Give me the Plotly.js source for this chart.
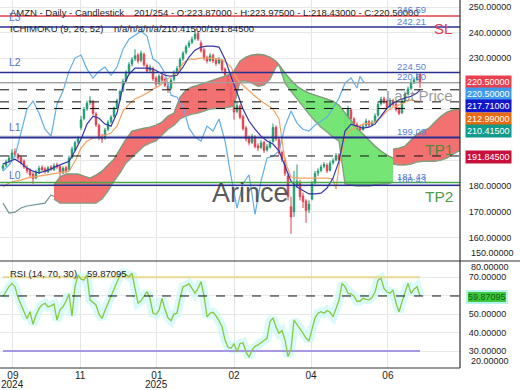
<!DOCTYPE html>
<html><head><meta charset="utf-8">
<script src="https://cdn.plot.ly/plotly-3.0.1.min.js"></script>
<style>html,body{margin:0;padding:0;background:#fff;}#chart{width:520px;height:390px;}</style>
</head><body><div id="chart"></div>
<script>
// ---------------- DATA ----------------
const symbolTitle = "AMZN - Daily - Candlestick";
const barInfo = "201/254";
const opens = [187.0,188.2,189.8,190.8,193.5,192.3,191.2,189.8,187.0,186.2,
184.8,183.2,185.2,187.3,186.8,185.6,187.5,186.5,188.4,187.8,
185.2,187.3,186.5,191.2,194.2,197.3,203.0,206.5,210.3,212.8,
213.0,208.2,203.8,199.3,198.8,202.3,205.2,207.3,210.8,213.8,
217.5,221.3,224.8,227.8,229.8,231.3,229.3,231.5,227.2,225.3,
226.0,222.3,220.2,223.2,221.8,219.2,218.3,221.8,224.8,226.3,
229.8,232.3,234.8,236.3,237.8,239.8,236.0,233.3,230.3,229.2,
231.2,229.2,228.2,229.2,225.8,223.2,219.2,213.5,209.3,211.3,
207.2,202.8,198.8,197.2,199.3,195.8,195.2,197.2,194.2,195.3,
197.5,203.0,198.2,193.2,190.2,184.0,172.0,170.0,180.5,181.5,
176.2,174.2,170.8,175.0,181.3,185.2,186.2,187.8,188.2,186.3,
189.2,190.3,192.2,190.8,203.5,206.3,209.8,206.3,204.2,203.2,
202.2,203.8,205.3,204.2,205.3,207.8,212.3,214.2,213.2,211.2,
213.3,212.2,210.2,208.8,213.3,216.2,218.3,220.8,221.8,223.87];
const highs = [189.0,190.5,192.0,194.5,194.8,193.0,192.0,190.5,188.2,187.0,
185.5,186.5,188.0,188.2,187.5,188.0,188.3,189.0,189.2,188.0,
187.8,188.0,192.0,195.5,197.8,199.5,207.5,211.0,213.5,215.2,
213.8,209.0,204.5,200.5,202.8,205.8,207.8,211.2,214.3,217.8,
222.0,225.3,228.5,230.5,233.5,232.0,233.0,232.3,228.0,227.5,
226.8,223.0,223.8,224.0,222.5,220.0,222.3,225.3,227.0,230.3,
232.8,235.3,237.0,238.5,241.5,240.5,237.0,234.0,231.0,232.0,
231.8,230.0,230.5,229.8,226.5,224.0,220.0,214.5,213.0,212.0,
208.0,203.5,199.8,200.5,200.0,196.8,198.0,197.8,196.5,198.0,
204.5,203.8,199.0,194.0,191.0,185.0,176.0,186.0,188.5,182.5,
177.5,175.0,174.5,182.0,186.0,187.0,188.5,189.5,189.0,190.0,
191.0,193.0,193.0,194.0,207.5,211.5,210.5,207.0,205.0,204.0,
204.5,206.5,206.0,205.8,208.5,213.0,215.0,215.0,214.0,214.5,
214.2,213.0,211.0,214.0,217.0,219.0,221.5,222.5,224.2,223.975];
const lows = [186.0,187.5,189.0,190.0,191.5,190.2,188.5,186.8,185.0,183.5,
181.0,182.8,184.8,185.8,185.0,185.2,186.0,186.0,186.8,183.5,
184.8,185.2,186.0,190.8,193.8,196.5,202.0,205.8,209.5,211.8,
207.8,203.2,198.0,197.0,198.2,201.5,204.5,206.8,210.2,213.0,
216.8,220.5,224.0,226.8,229.0,228.0,228.5,226.8,224.2,224.6,
221.2,218.8,219.5,220.8,218.8,216.5,217.8,221.0,224.0,225.5,
229.0,231.5,234.0,235.5,237.0,236.8,232.2,229.2,228.0,228.6,
228.2,227.0,227.6,224.8,222.8,218.8,211.5,206.0,208.5,206.2,
201.8,197.5,196.0,196.5,194.8,193.8,194.5,193.0,193.5,194.8,
197.0,197.8,192.2,189.5,184.0,174.5,161.4,168.0,179.5,174.5,
171.5,165.7,169.5,174.5,180.8,184.0,185.5,187.0,185.2,185.8,
188.5,189.8,189.8,190.2,202.8,205.5,205.8,203.2,202.2,201.2,
201.5,203.0,203.2,203.5,204.8,207.2,211.5,212.2,210.2,210.6,
211.2,209.2,207.8,208.2,212.6,215.5,217.6,220.0,221.0,218.43];
const closes = [188,189.5,191,193,192.5,191,189.5,187.5,186,184.5,
183,185.5,187,186.5,185.8,187.2,186.8,188,187.5,185.5,
187,186,191,194.5,197,198.5,206,210,212.5,213.5,
208.5,204,199,198.5,202,205,207,210.5,213.5,217,
221,224.5,227.5,229.5,231,229,232,227.5,225,226.5,
222,220,223,221.5,219.5,218,221.5,224.5,226,229.5,
232,234.5,236,237.5,239.5,237.5,233,230,229,231,
229,228,229.5,225.5,223.5,219.5,213,209,211.5,207,
202.5,198.5,197,199.5,195.5,195,197,194,195.5,197,
203,198.5,193,190.5,185,176,168,180,182,176,
174,170.5,173,181,185,186,187.5,188.5,186,189,
190,192,190.5,193,206,210,206.5,204,203,202,
203.5,205.5,204,205,207.5,212,214,213,211,213.5,
212,210,208.5,213,216,218,220.5,221.5,222.5,220.5];

// Ichimoku lines (bar index, value)
const tenkanX = [0,2,4,6,8,10,12,14,16,18,20,22,24,26,28,30,32,34,36,38,40,42,44,46,48,50,52,54,56,58,60,62,64,66,68,70,72,74,76,78,80,82,84,86,88,90,92,94,96,98,100,102,104,106,108,110,112,114,116,118,120,122,124,126,128,130,132,134,136,138,139];
const tenkan = [188.7,189.8,190.6,189.1,187.1,185.9,185.2,185.9,186.7,187.9,188.7,189.8,193.8,198.4,204.3,207.4,206.6,204.3,203.5,208.6,219.1,223.8,226.2,226.2,226.2,225.8,224.6,223.4,223.0,223.4,226.6,230.5,233.2,234.4,234.8,234.8,234.4,229.7,223.0,216.4,210.2,205.5,202.3,199.6,197.7,196.5,193.8,187.9,182.0,179.7,178.5,177.0,177.0,177.3,179.3,183.2,189.8,201.6,204.3,203.5,202.7,203.1,204.3,207.4,210.5,212.5,213.7,214.5,215.2,216.4,217.71];
const kijunX = [0,2,4,6,8,10,12,14,16,18,20,22,24,26,28,30,32,34,36,38,40,42,44,46,48,50,52,54,56,58,60,62,64,66,68,70,72,74,76,78,80,82,84,86,88,90,92,94,96,98,100,102,104,106,108,110,111,112,114,116,118,120,122,124,126,128,130,132,134,136,138,139];
const kijun = [179.7,181.3,182.0,182.4,183.2,183.6,184.0,184.4,184.8,185.2,185.5,185.9,189.8,194.9,197.7,198.8,199.2,200.0,200.8,203.5,209.4,212.1,214.1,215.2,216.4,218.0,219.1,221.1,223.0,224.2,228.1,229.7,229.7,230.1,230.1,230.1,229.7,228.9,226.6,221.9,219.5,217.2,215.2,213.3,211.7,210.2,206.3,189.8,183.6,183.2,183.2,183.2,183.2,183.2,183.2,182.8,178.9,187.9,199.6,202.0,203.1,204.3,204.7,205.1,207.0,209.4,210.9,211.7,212.9,213.7,213.3,212.99];
const chikouX = [0,2,4,6,8,10,12,14,16,18,20,22,24,26,28,30,32,34,36,38,40,42,44,46,48,50,52,54,56,58,60,62,64,66,68,70,72,74,76,78,80,82,84,86,88,90,92,94,96,98,100,102,104,106,108,110,112,114,116,118,119,120,120.7];
const chikou = [185.9,188.3,191.8,200.5,210.2,213.3,208.6,202.3,199.6,212.1,
217.2,225.0,230.1,231.3,225.8,222.3,225.0,226.6,223.4,226.6,
233.6,237.5,239.1,240.6,238.7,229.7,228.1,224.2,215.6,214.8,
211.3,202.7,199.2,197.7,203.5,201.6,206.3,197.7,184.0,171.5,
181.0,184.5,169.0,182.0,191.0,191.8,193.8,203.5,209.4,204.7,
202.3,201.6,203.9,205.5,207.0,210.5,214.5,220.3,222.3,218.4,
223.0,221.1,220.5];
const spanLeadX = [0,2,4,6,8,10,12,14,16,17];
const spanLead = [173.4,169.5,169.9,171.5,172.3,172.7,173.0,173.4,176.6,176.0];

// Cloud segments (shifted forward)
const cloud1X = [17,19,21,23,25,27,29,31,33,35,37,39,41,43,45,47,49,51,53,55,57,59,61,63,65,67,69,71,73,75,77,79,81,83,85,87,89,91,92];
const cloud1Top = [180.5,183.6,184.8,184.8,184.8,184.0,183.2,184.4,185.9,188.3,190.6,194.5,198.4,201.6,202.3,202.7,203.1,203.9,205.1,207.4,208.6,214.8,217.6,218.8,219.5,220.3,221.1,221.9,222.7,223.4,225.0,228.9,230.5,231.3,231.6,231.3,230.5,228.9,227.5];
const cloud1Bottom = [175.0,173.4,173.4,173.4,173.4,173.4,173.4,173.4,175.0,178.1,182.0,185.2,189.1,191.4,193.4,195.7,196.9,197.7,200.0,202.3,203.9,206.3,207.4,208.2,208.6,209.4,210.2,210.5,210.5,210.9,211.3,221.1,221.1,220.3,219.1,219.5,221.9,226.6,227.5];
const cloud2X = [92,94,96,98,100,102,104,106,108,110,112,114,116,118,120,122,124,126,128,130];
const cloud2Top = [227.5,224.2,221.5,219.1,217.6,216.4,215.6,214.8,214.1,213.3,211.7,208.6,205.5,202.7,200.4,198.0,195.7,193.8,192.2,191.0];
const cloud2Bottom = [227.5,220.3,217.2,214.1,211.3,208.2,205.5,203.1,201.2,199.2,197.7,180.9,180.5,180.1,180.1,180.1,180.5,180.9,180.9,181.6];
const cloud3X = [130,132,134,136,138,140,142,144,146,148,150,152,154];
const cloud3Top = [194.5,194.9,195.7,198.0,200.4,201.6,202.7,205.1,207.4,209.0,209.8,210.2,210.5];
const cloud3Bottom = [188.7,188.3,188.3,188.7,189.5,189.8,189.8,189.8,190.2,191.0,192.6,193.8,194.5];

// Current indicator values
const tenkanNow = 217.71, kijunNow = 212.99, spanANow = 210.415, spanBNow = 191.845, chikouNow = 220.5;

// Horizontal levels
const stopLoss = 246.59, levelL3 = 242.21, levelL2 = 224.50, lastPrice = 220.50, levelL1 = 199.09, levelTP2 = 181.43, levelL0 = 180.43;

// RSI (14)
const rsi = [59.5,62,65,66.7,64.9,59,55,51.5,47.5,51.3,
44.5,49.5,53,55,55.9,54,54.5,55.5,46.8,52.3,
54,57,61,49,64.9,71.2,69,68.5,71.2,57.7,
56.5,55,50,47.7,52,56,59.5,63.5,67,71.2,
72.5,71.5,70.3,72.2,64,56,57.2,60,62.2,58.6,
50.5,49.8,52,58.6,52.5,48,46.5,50,50.5,58.5,
64.9,65.5,66.5,64,61.3,64,67.6,60,48.6,50.5,
51,49,46.5,43.2,36,32,31.5,34,29.6,34,
34.5,29.5,26.6,30.5,32.5,33.3,34.5,35.5,36.9,46,
48,43,39.6,41,36,27,31,46.8,44.1,42,
39.6,37,35.5,42,48,50.5,51.3,50.5,52,51,
48.6,53,57.5,66.7,64.9,61.3,61,59.8,57,57,
58.6,58,57.8,59,62,68.5,69.5,64,62,61.3,
63.1,56,51.3,56.8,62,66.7,61.3,63.5,64.9,59.87095];
const rsiOverbought = 70, rsiOversold = 30;

// X tick labels
const tickBars = [3.3, 25.7, 51.3, 77, 102.7, 128.3];
const tickLabels = ["09","11","01","02","04","06"];
const yearLabels = [{at:3.3, text:"2024"}, {at:51.3, text:"2025"}];
const priceTicks = [160,170,180,190,200,210,220,230,240,250];
const rsiTicks = [30,40,50,60,70];

// ---------------- LAYOUT HELPERS ----------------
const FONT = "Liberation Sans, Arial, sans-serif";
const plotW = 460, plotH = 368;
const px2x = px => px / plotW;
const py2y = py => 1 - py / plotH;
const split = py2y(261);
const bars = closes.map((_, i) => i);
const last = closes.length - 1;
const f5 = v => v.toFixed(5);

const traces = [];
function cloud(x, top, bottom, fill){
  traces.push({type:'scatter', mode:'lines', x:x, y:bottom, line:{color:'#86a082', width:1.4}, hoverinfo:'skip', xaxis:'x', yaxis:'y'});
  traces.push({type:'scatter', mode:'lines', x:x, y:top, line:{color:'#7d9a78', width:1.4}, fill:'tonexty', fillcolor:fill, hoverinfo:'skip', xaxis:'x', yaxis:'y'});
}
cloud(cloud1X, cloud1Top, cloud1Bottom, 'rgba(242,98,98,0.9)');
cloud(cloud2X, cloud2Top, cloud2Bottom, 'rgba(110,228,110,0.95)');
cloud(cloud3X, cloud3Top, cloud3Bottom, 'rgba(242,98,98,0.9)');
traces.push({type:'scatter', mode:'lines', x:spanLeadX, y:spanLead, line:{color:'#6f9494', width:1.2}, xaxis:'x', yaxis:'y'});
traces.push({type:'scatter', mode:'lines', x:chikouX, y:chikou, line:{color:'#62aee8', width:1.2}, xaxis:'x', yaxis:'y'});
traces.push({type:'scatter', mode:'lines', x:kijunX, y:kijun, line:{color:'#f4a262', width:1.2}, xaxis:'x', yaxis:'y'});
traces.push({type:'scatter', mode:'lines', x:tenkanX, y:tenkan, line:{color:'#3434a8', width:1.2}, xaxis:'x', yaxis:'y'});
traces.push({type:'candlestick', x:bars, open:opens, high:highs, low:lows, close:closes,
  increasing:{line:{color:'#1f9b72', width:1}, fillcolor:'#1f9b72'},
  decreasing:{line:{color:'#e0414f', width:1}, fillcolor:'#e0414f'},
  whiskerwidth:0, xaxis:'x', yaxis:'y', hoverinfo:'skip'});
// RSI panel
traces.push({type:'scatter', mode:'lines', x:bars, y:rsi, line:{color:'rgba(200,248,246,0.7)', width:9}, xaxis:'x', yaxis:'y2'});
traces.push({type:'scatter', mode:'lines', x:[bars[0], bars[last]], y:[rsiOverbought, rsiOverbought], line:{color:'#e8d98e', width:2}, xaxis:'x', yaxis:'y2'});
traces.push({type:'scatter', mode:'lines', x:[bars[0], bars[last]], y:[rsiOversold, rsiOversold], line:{color:'#a898e4', width:2}, xaxis:'x', yaxis:'y2'});
traces.push({type:'scatter', mode:'lines', x:bars, y:rsi, line:{color:'#8cc63e', width:1.3}, xaxis:'x', yaxis:'y2'});

// shapes
const shapes = [];
const hline = (v, color, w, dash, yref) => shapes.push({type:'line', xref:'paper', x0:0, x1:1, yref:yref||'y', y0:v, y1:v, line:{color:color, width:w, dash:dash||'solid'}, layer:'above'});
hline(stopLoss, '#e0404f', 1.5);
hline(levelL3, '#28318f', 1.5);
hline(levelL2, '#28318f', 1.5);
hline(lastPrice, '#a0a0a0', 1.2);
[tenkanNow, kijunNow, spanANow, spanBNow].forEach(v => hline(v, '#111', 1, 'dash'));
hline(levelL1, '#28318f', 2);
hline(levelTP2, '#45a845', 1.5);
hline(levelL0, '#28318f', 1.5);
hline(rsi[last], '#111', 1, 'dash', 'y2');
shapes.push({type:'line', xref:'paper', yref:'paper', x0:1, x1:1, y0:0, y1:1, line:{color:'#333', width:1.2}, layer:'above'});
shapes.push({type:'line', xref:'paper', yref:'paper', x0:0, x1:520/plotW, y0:split, y1:split, line:{color:'#333', width:1.2}, layer:'above'});
shapes.push({type:'line', xref:'paper', yref:'paper', x0:0, x1:1, y0:0, y1:0, line:{color:'#333', width:1.2}, layer:'above'});

// annotations
const ann = [];
const txt = (text, px, py, size, color, anchor, extra) => ann.push(Object.assign({text:text, xref:'paper', yref:'paper', x:px2x(px), y:py2y(py), xanchor:anchor||'left', yanchor:'middle', showarrow:false, font:{family:FONT, size:size, color:color}}, extra||{}));
txt(symbolTitle, 8, 12.5, 9.5, '#222');
txt(`${barInfo} - O:${f5(opens[last])} - H:${f5(highs[last])} - L:${f5(lows[last])} - C:${f5(closes[last])}`, 132, 12.5, 9.5, '#222');
txt("ICHIMOKU (9, 26, 52)", 8, 29, 9.5, '#222');
txt(`n/a/n/a/n/a/${f5(spanANow)}/${f5(spanBNow)}`, 112, 29, 9.5, '#222');
txt("RSI (14, 70, 30)", 8, 273.5, 9.5, '#222');
txt(f5(rsi[last]), 85, 273.5, 9.5, '#222');
// L labels
const lvlLabel = (t, v) => ann.push({text:t, xref:'paper', yref:'y', x:px2x(7), y:v, yshift:10, xanchor:'left', yanchor:'middle', showarrow:false, font:{family:FONT, size:10.5, color:'#5572cc'}});
lvlLabel('L3', levelL3); lvlLabel('L2', levelL2); lvlLabel('L1', levelL1); lvlLabel('L0', levelL0);
// right line value labels
const valLabel = (v, shift) => ann.push({text:v.toFixed(2), xref:'paper', yref:'y', x:px2x(395), y:v, yshift:shift, xanchor:'left', yanchor:'middle', showarrow:false, font:{family:FONT, size:9.5, color:'#5b7fd6'}});
[stopLoss, levelL3, levelL2, lastPrice, levelL1, levelTP2, levelL0].forEach(v => valLabel(v, 6));
txt("SL", 443, 29, 15, '#e0394a', 'center');
txt("TP1", 438.5, 150, 15.5, 'rgba(60,140,50,0.9)', 'center');
txt("TP2", 439, 196, 15.5, 'rgba(60,140,50,0.9)', 'center');
txt("Last Price", 455, 95.5, 15, 'rgba(120,120,120,0.75)', 'right');
txt("Arince", 251, 193, 27, 'rgba(60,60,60,0.85)', 'center');
// right tags
const tags = [
  {v:closes[last], bg:'#e8404f', py:81.7},
  {v:chikouNow, bg:'#3d9be9', py:94},
  {v:tenkanNow, bg:'#1414c8', py:106.3},
  {v:kijunNow, bg:'#e8690f', py:118.6},
  {v:spanANow, bg:'#0f9a8c', py:130.9},
  {v:spanBNow, bg:'#c8103c', py:157}
];
tags.forEach(t => txt(f5(t.v), 465, t.py, 9, '#fff', 'left', {bgcolor:t.bg, borderpad:1}));
txt(f5(rsi[last]), 466, 297, 9, '#145a14', 'left', {bgcolor:'#3cc83c', bordercolor:'#b8f4ef', borderwidth:2, borderpad:0});
// clamped axis labels
txt(f5(150), 469, 253, 9, '#222');
txt(f5(80), 469, 266.7, 9, '#222');
txt(f5(20), 469, 360.7, 9, '#222');
yearLabels.forEach(y => ann.push({text:y.text, xref:'x', yref:'paper', x:y.at, y:py2y(384), xanchor:'center', yanchor:'middle', showarrow:false, font:{family:FONT, size:10, color:'#222'}}));

const hiddenPrice = [190,200,210,220];
const layout = {
  width:520, height:390, margin:{l:0, r:60, t:0, b:22},
  paper_bgcolor:'#fff', plot_bgcolor:'#fff', showlegend:false,
  font:{family:FONT, size:9, color:'#222'},
  xaxis:{domain:[0,1], anchor:'y2', range:[-1, 152.33], tickmode:'array', tickvals:tickBars, ticktext:tickLabels,
    tickfont:{size:10, color:'#222'}, showgrid:true, gridcolor:'#e4e4e4', zeroline:false, showline:false,
    rangeslider:{visible:false}, fixedrange:true},
  yaxis:{domain:[split,1], anchor:'x', side:'right', range:[150.8, 252.8], tickmode:'array', tickvals:priceTicks,
    ticktext:priceTicks.map(v => hiddenPrice.includes(v) ? '' : f5(v)), ticks:'outside', ticklen:6, tickcolor:'rgba(0,0,0,0)',
    tickfont:{size:9, color:'#222'}, showgrid:true, gridcolor:'#e8e8e8', zeroline:false, fixedrange:true},
  yaxis2:{domain:[0,split], anchor:'x', side:'right', range:[20.77, 78.86], tickmode:'array', tickvals:rsiTicks,
    ticktext:rsiTicks.map(v => v === 60 ? '' : f5(v)), ticks:'outside', ticklen:6, tickcolor:'rgba(0,0,0,0)',
    tickfont:{size:9, color:'#222'}, showgrid:true, gridcolor:'#e8e8e8', zeroline:false, fixedrange:true},
  shapes:shapes, annotations:ann
};
Plotly.newPlot('chart', traces, layout, {staticPlot:true, displayModeBar:false});
</script></body></html>
